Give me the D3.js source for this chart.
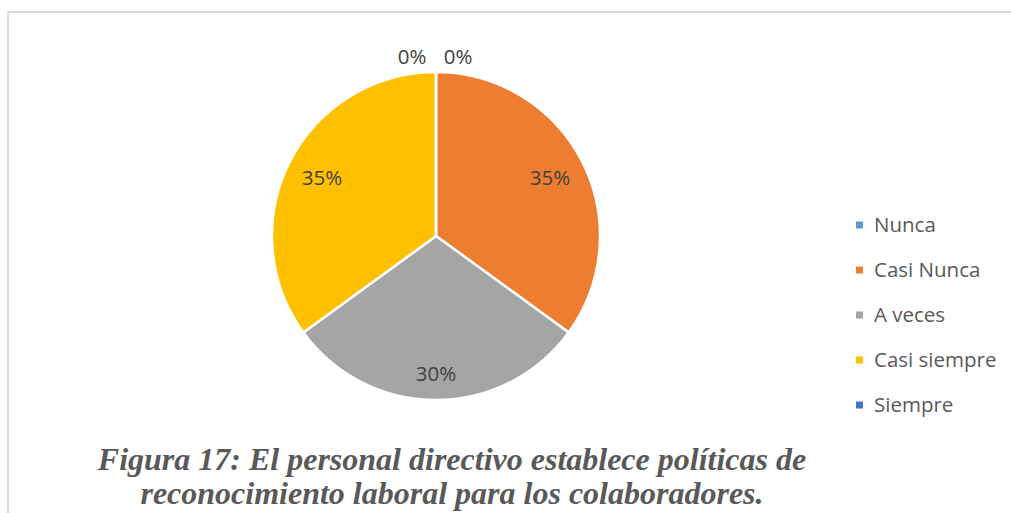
<!DOCTYPE html>
<html>
<head>
<meta charset="utf-8">
<script src="https://cdn.jsdelivr.net/npm/d3@7"></script>
<style>
  body { margin: 0; background: #fff; }
  svg { display: block; }
</style>
</head>
<body>
<div class="chart"></div>
<script>
var svgWidth = 1011;
var svgHeight = 513;

// data
var categories = ["Nunca", "Casi Nunca", "A veces", "Casi siempre", "Siempre"];
var values = [0, 7, 6, 7, 0];
var colors = ["#5b9bd5", "#ed7d31", "#a5a5a5", "#ffc000", "#4472c4"];
var titleLines = [
  "Figura 17: El personal directivo establece políticas de",
  "reconocimiento laboral para los colaboradores."
];

var svg = d3.select(".chart")
  .append("svg")
  .attr("width", svgWidth)
  .attr("height", svgHeight);

// chart frame (top and left edges visible)
svg.append("path")
  .attr("d", "M8,513 V12 H1011")
  .attr("fill", "none")
  .attr("stroke", "#d9d9d9")
  .attr("stroke-width", 2);

var cx = 436, cy = 236, radius = 164;
var total = d3.sum(values);

var pie = d3.pie().sort(null).value(d => d);
var arcs = pie(values);
var arc = d3.arc().innerRadius(0).outerRadius(radius);
var labelArc = d3.arc().innerRadius(radius * 0.78).outerRadius(radius * 0.78);

var pieGroup = svg.append("g")
  .attr("transform", `translate(${cx}, ${cy})`);

pieGroup.selectAll("path")
  .data(arcs)
  .enter()
  .append("path")
  .attr("d", arc)
  .attr("fill", (d, i) => colors[i])
  .attr("stroke", "#fff")
  .attr("stroke-width", 2.5);

var pct = d3.format(".0%");

// labels: inside for real slices, above the pie for the empty ones
pieGroup.selectAll("text")
  .data(arcs)
  .enter()
  .append("text")
  .attr("transform", function(d, i) {
    if (d.value === 0) {
      var dx = i === 0 ? 22 : -24;
      return `translate(${dx}, ${-radius - 15})`;
    }
    var c = labelArc.centroid(d);
    return `translate(${c[0]}, ${c[1] + (d.index === 2 ? 10 : 0)})`;
  })
  .attr("text-anchor", "middle")
  .attr("dy", "0.35em")
  .attr("font-family", "'Open Sans', 'Noto Sans', sans-serif")
  .attr("font-size", 20.5)
  .attr("fill", "#404040")
  .text(d => pct(d.value / total));

// legend
var legend = svg.append("g")
  .attr("transform", "translate(856, 225)");

var items = legend.selectAll("g")
  .data(categories)
  .enter()
  .append("g")
  .attr("transform", (d, i) => `translate(0, ${i * 45})`);

items.append("rect")
  .attr("x", 0)
  .attr("y", -3.5)
  .attr("width", 7)
  .attr("height", 7)
  .attr("fill", (d, i) => colors[i]);

items.append("text")
  .attr("x", 18)
  .attr("dy", "0.35em")
  .attr("font-family", "'Open Sans', 'Noto Sans', sans-serif")
  .attr("font-size", 20.5)
  .attr("fill", "#595959")
  .text(d => d);

// caption
svg.append("g")
  .selectAll("text")
  .data(titleLines)
  .enter()
  .append("text")
  .attr("x", 452)
  .attr("y", (d, i) => 470 + i * 34)
  .attr("text-anchor", "middle")
  .attr("font-family", "'Liberation Serif', 'Times New Roman', serif")
  .attr("font-style", "italic")
  .attr("font-weight", "bold")
  .attr("font-size", 32)
  .attr("fill", "#595959")
  .text(d => d);
</script>
</body>
</html>
